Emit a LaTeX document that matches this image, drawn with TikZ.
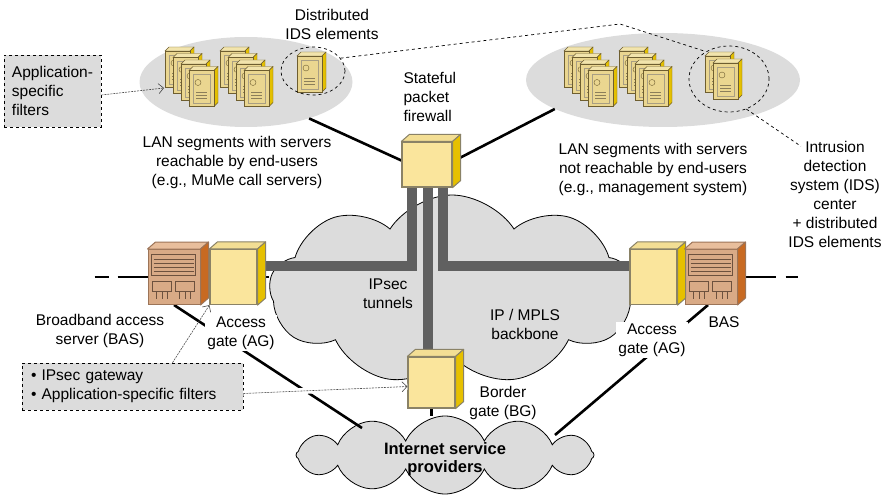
\documentclass[tikz,border=0pt]{standalone}
\usepackage{fontspec}
\setmainfont{Liberation Sans}
\usetikzlibrary{shapes.geometric,shapes.symbols,arrows.meta}

\definecolor{lanfill}{HTML}{DCDCDC}
\definecolor{tunnelgray}{HTML}{606060}
\definecolor{gatefront}{HTML}{FAE59C}
\definecolor{gatetop}{HTML}{F3DE94}
\definecolor{gateside}{HTML}{E6C000}
\definecolor{gateedge}{HTML}{8A8266}
\definecolor{basfront}{HTML}{D9AA86}
\definecolor{bastop}{HTML}{E8BE9C}
\definecolor{basside}{HTML}{C86A22}
\definecolor{basedge}{HTML}{9C7458}
\definecolor{srvfront}{HTML}{EAD690}
\definecolor{srvtop}{HTML}{F2E4AC}
\definecolor{srvside}{HTML}{E4C000}
\definecolor{srvedge}{HTML}{6E5E30}

\pgfdeclarelayer{back}
\pgfdeclarelayer{wires}
\pgfsetlayers{back,wires,main}

\tikzset{
  lan/.style={ellipse,fill=lanfill,inner sep=0},
  net/.style={cloud,cloud puff arc=115,cloud ignores aspect,draw,fill=lanfill,line width=0.8pt,inner sep=0},
  gate/.style={rectangle,draw=gateedge,line width=1.2pt,fill=gatefront,inner sep=0},
  bas/.style={rectangle,draw=basedge,line width=1pt,fill=basfront,inner sep=0,minimum width=52,minimum height=55},
  ids/.style={ellipse,draw,dashed,line width=0.7pt,inner sep=0},
  tunnel/.style={line width=10pt,draw=tunnelgray},
  link/.style={line width=2.6pt},
  note/.style={gray!60!black,line width=0.6pt,dash pattern=on 2pt off 1pt,-{Straight Barb[length=5pt,width=10pt]}},
  callout/.style={draw,dashed,fill=lanfill,line width=0.7pt,align=left},
  server/.pic={
    \filldraw[fill=srvtop,draw=srvedge] (0,0) -- (4,-4) -- (29,-4) -- (25,0) -- cycle;
    \filldraw[fill=srvside,draw=srvedge] (25,0) -- (29,-4) -- (29,32) -- (25,36) -- cycle;
    \filldraw[fill=srvfront,draw=srvedge,line width=0.8pt] (0,0) rectangle (25,36);
    \draw[srvedge!60] (4,4) rectangle (21,33);
    \draw[srvedge] (9,12) circle (3pt);
    \draw[srvedge!80] (7,22) -- (18,22) (7,25) -- (18,25) (7,28) -- (18,28);
  }
}

% top and side faces of a box drawn as a node
\newcommand\boxfaces[4]{%
  \filldraw[fill=#2,draw=#4,line width=1pt,line join=round] (#1.north west) -- ++(8,-7) -- ([shift={(8,-7)}]#1.north east) -- (#1.north east) -- cycle;
  \filldraw[fill=#3,draw=#4,line width=1pt,line join=round] (#1.north east) -- ++(8,-7) -- ([shift={(8,-7)}]#1.south east) -- (#1.south east) -- cycle;
}
% front panel of a BAS
\newcommand\basdetail[1]{%
  \begin{scope}[shift={(#1.north west)},color=basedge!70!black,line width=0.6pt]
    \draw (4,5) rectangle (48,26);
    \foreach \yy in {10,14,18,22} \draw (6,\yy) -- (46,\yy);
    \foreach \xx in {5,28} {
      \draw (\xx,32) rectangle ({\xx+19},42);
      \draw ({\xx+4},42) -- ({\xx+4},50) ({\xx+9.5},42) -- ({\xx+9.5},50) ({\xx+15},42) -- ({\xx+15},50);
    }
  \end{scope}
}

\begin{document}
\begin{tikzpicture}[x=1pt,y=-1pt,font=\fontsize{15.5}{19}\selectfont]
\useasboundingbox (0,0) rectangle (886,497);

% LAN segments and clouds
\begin{pgfonlayer}{back}
\node[lan,minimum width=213,minimum height=90] (lanl) at (246,82) {};
\node[lan,minimum width=274,minimum height=94] (lanr) at (663,80) {};
\node[net,cloud puffs=9,minimum width=365,minimum height=190] (bb) at (452,290) {};
\node[net,cloud puffs=12,cloud puff arc=130,minimum width=298,minimum height=78] (isp) at (445,455) {};
\end{pgfonlayer}

% servers
\foreach \i in {0,...,3} {
  \pic at ({165+8*\i},{51+6.5*\i}) {server};
  \pic at ({220+8*\i},{51+6.5*\i}) {server};
  \pic at ({564+8*\i},{51+6.5*\i}) {server};
  \pic at ({619+8*\i},{51+6.5*\i}) {server};
}
\pic at (297,56) {server};
\pic at (705,56) {server};
\pic at (713,63) {server};

\node[ids,minimum width=64,minimum height=48] (idsl) at (313,71) {};
\node[ids,minimum width=80,minimum height=66] (idsr) at (729,79) {};

% gates and BAS
\node[gate,minimum width=50,minimum height=45] (fw) at (427,164.5) {};
\node[gate,minimum width=47,minimum height=55] (agl) at (233.5,277) {};
\node[gate,minimum width=47,minimum height=55] (agr) at (653.5,277) {};
\node[gate,minimum width=47,minimum height=51] (bg) at (431.5,382.5) {};
\node[bas] (basl) at (174,277) {};
\node[bas] (basr) at (711,277) {};
\boxfaces{fw}{gatetop}{gateside}{gateedge}
\boxfaces{agl}{gatetop}{gateside}{gateedge}
\boxfaces{agr}{gatetop}{gateside}{gateedge}
\boxfaces{bg}{gatetop}{gateside}{gateedge}
\boxfaces{basl}{bastop}{basside}{basedge}
\boxfaces{basr}{bastop}{basside}{basedge}
\basdetail{basl}
\basdetail{basr}

% labels
\node[align=center] (distlbl) at (332,24) {Distributed\\IDS elements};
\node[align=left,anchor=west] (fwlbl) at (400,97) {Stateful\\packet\\firewall};
\node[align=center] (lanllbl) at (237,162) {LAN segments with servers\\reachable by end-users\\(e.g., MuMe call servers)};
\node[align=center] (lanrlbl) at (653,169) {LAN segments with servers\\not reachable by end-users\\(e.g., management system)};
\node[align=center] (idscent) at (835,194) {Intrusion\\detection\\system (IDS)\\center\\+ distributed\\IDS elements};
\node[align=center] (baslbl) at (100,331) {Broadband access\\server (BAS)};
\node[align=center,fill=white,inner sep=2pt] (agllbl) at (241,333) {Access\\gate (AG)};
\node[align=center,fill=white,inner sep=2pt] (agrlbl) at (652,340) {Access\\gate (AG)};
\node (basrlbl) at (724,322) {BAS};
\node[align=center] (tunlbl) at (388,294) {IPsec\\tunnels};
\node[align=center] (bblbl) at (525,324) {IP / MPLS\\backbone};
\node[align=center] (bglbl) at (503,403) {Border\\gate (BG)};
\node[align=center,font=\fontsize{16.5}{18}\selectfont\bfseries] (isplbl) at (445,459) {Internet service\\providers};

% IDS management links
\coordinate (apex) at (620,24);
\draw[dashed,line width=0.7pt] (idsl.25) -- (apex) -- (idsr.130);
\draw[dashed,line width=0.7pt] (idsr.300) -- ([shift={(16,9)}]idscent.north west);

% call-outs
\node[callout,text width=81,inner xsep=8,minimum height=72] (appf) at (52.5,91) {Application-\\specific\\filters};
\node[callout,text width=203,inner xsep=9,minimum height=47] (bul) at (132.5,386.5) {• IPsec gateway\\• Application-specific filters};
\coordinate (srvtip) at (164,88);
\draw[note] ([yshift=-4pt]appf.east) -- (srvtip);
\draw[note,preaction={draw=white,line width=6pt,solid,arrows=-}] ([yshift=-7pt]bul.east) -- ([yshift=-4pt]bg.west);
\draw[note] ([xshift=40pt]bul.north) -- (agl.south west);

% tunnels and links
\begin{pgfonlayer}{wires}
\draw[tunnel] ([xshift=-15pt]fw.south) |- ([yshift=11pt]agl.east);
\draw[tunnel] ([xshift=16pt]fw.south) |- ([yshift=11pt]agr.west);
\draw[tunnel] ([xshift=1pt]fw.south) -- ([xshift=1pt]fw.south |- bg.north);
\coordinate (lend) at ([xshift=-53pt]basl.west);
\coordinate (rend) at ([xshift=60pt]basr.east);
\draw[link,dash pattern=on 14pt off 9pt on 60pt] (lend) -- (basl.west);
\draw[link] (basl.east) -- (agl.west);
\draw[link] (agl.east) -- (agl.east -| bb.west);
\draw[link] (agr.west) -- (agr.west -| bb.east);
\draw[link] (agr.east) -- (basr.west);
\draw[link,dash pattern=on 38pt off 10pt on 14pt] (basr.east) -- (rend);
\draw[link] (lanl.330) -- ([yshift=4pt]fw.west);
\draw[link] ([shift={(8,-7)}]fw.east) -- (lanr.195);
\draw[link] (basl.south) -- ([shift={(-83,-27)}]isp.center);
\draw[link] ([xshift=-3pt]basr.south) -- ([shift={(110,-20)}]isp.center);
\draw[link] (bg.south) -- (bg.south |- isp.north);
\end{pgfonlayer}
\end{tikzpicture}
\end{document}
